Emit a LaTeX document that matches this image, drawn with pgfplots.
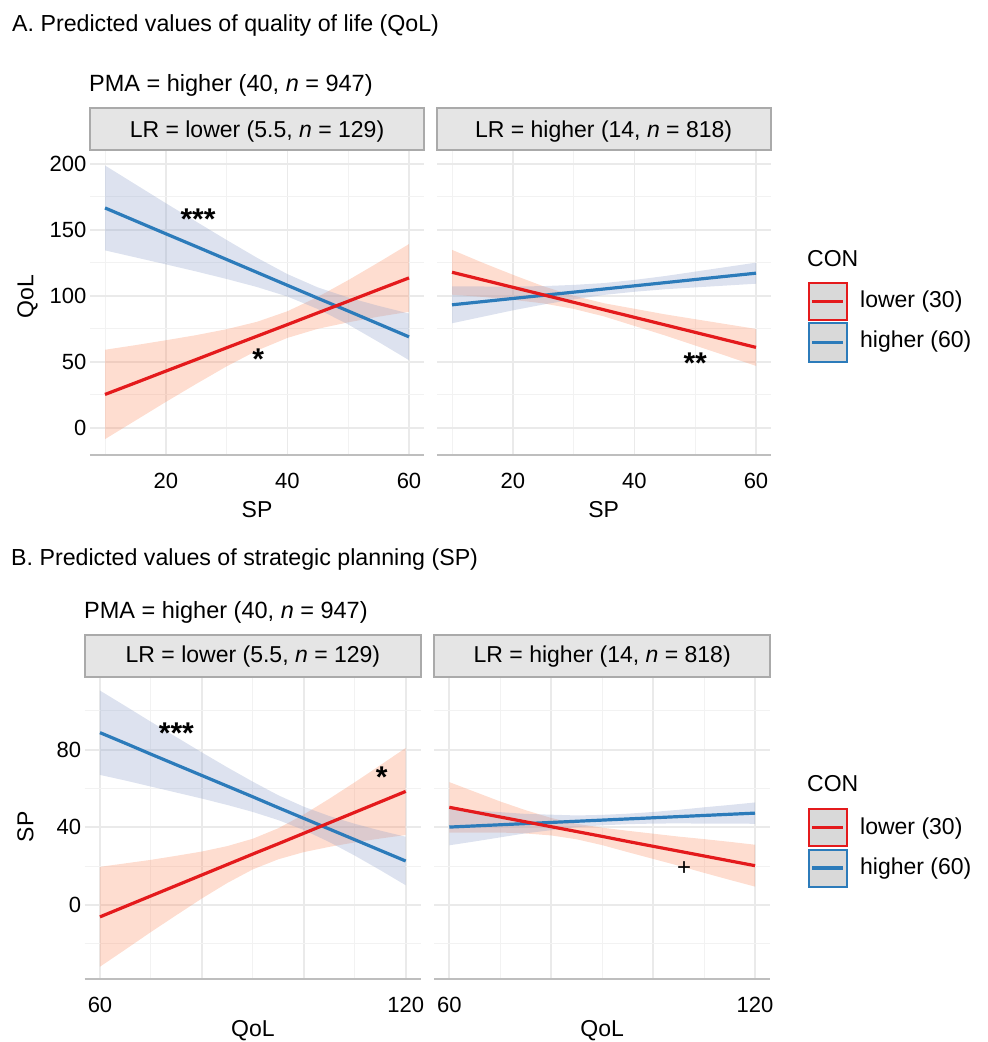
\documentclass[border=0pt]{standalone}
\usepackage{pgfplots}
\pgfplotsset{compat=1.18}
\usepackage{pgfplotstable}
\usepgfplotslibrary{fillbetween}
\usepackage{fontspec}
\setmainfont{Liberation Sans}

\definecolor{cred}{RGB}{228,26,28}
\definecolor{cblue}{RGB}{44,123,186}
\definecolor{rfill}{RGB}{252,141,98}
\definecolor{bfill}{RGB}{141,160,203}
\definecolor{gridmaj}{RGB}{234,234,234}
\definecolor{gridmin}{RGB}{242,242,242}
\definecolor{axgray}{RGB}{190,190,190}
\definecolor{stripfill}{RGB}{229,229,229}
\definecolor{stripdraw}{RGB}{170,170,170}
\definecolor{keyfill}{RGB}{217,217,217}

% ---------- Panel A, LR = lower ----------
\pgfplotstableread{
x fit lo hi
10 25.2 -8.7 59.1
15 34.0 5.4 62.6
20 42.9 19.5 66.3
25 51.7 33.2 70.2
30 60.6 46.5 74.7
35 69.4 58.5 80.3
40 78.2 68.1 88.3
45 87.1 75.0 99.2
50 95.9 79.9 111.9
55 104.8 84.2 125.4
60 113.6 87.9 139.3
}\tALred
\pgfplotstableread{
x fit lo hi
10 166.7 134.5 198.9
15 156.9 129.2 184.6
20 147.1 123.9 170.3
25 137.4 118.5 156.3
30 127.6 112.8 142.4
35 117.8 106.7 128.9
40 108.0 99.5 116.5
45 98.2 90.0 106.4
50 88.5 78.3 98.7
55 78.7 65.0 92.4
60 68.9 51.2 86.6
}\tALblue
% ---------- Panel A, LR = higher ----------
\pgfplotstableread{
x fit lo hi
10 117.9 100.9 134.9
15 112.2 99.2 125.2
20 106.5 97.0 116.0
25 100.8 94.3 107.3
30 95.1 90.1 100.1
35 89.4 84.4 94.4
40 83.7 77.2 90.2
45 78.0 70.0 86.0
50 72.3 62.3 82.3
55 66.6 54.6 78.6
60 60.9 46.9 74.9
}\tAHred
\pgfplotstableread{
x fit lo hi
10 93.2 79.2 107.2
15 95.6 84.1 107.1
20 98.0 89.0 107.0
25 100.4 93.4 107.4
30 102.8 97.3 108.3
35 105.2 100.7 109.7
40 107.6 103.1 112.1
45 110.0 105.0 115.0
50 112.4 106.4 118.4
55 114.8 107.8 121.8
60 117.2 109.2 125.2
}\tAHblue
% ---------- Panel B, LR = lower ----------
\pgfplotstableread{
x fit lo hi
60 -6.2 -31.9 19.6
65 -0.8 -23.0 21.4
70 4.6 -14.0 23.2
75 10.0 -5.3 25.3
80 15.4 3.3 27.5
85 20.8 11.3 30.3
90 26.2 18.3 34.1
95 31.5 23.5 39.5
100 36.9 27.2 46.6
105 42.3 29.9 54.7
110 47.7 32.2 63.2
115 53.1 34.2 72.0
120 58.5 36.0 80.9
}\tBLred
\pgfplotstableread{
x fit lo hi
60 88.8 67.0 110.5
65 83.3 64.1 102.5
70 77.7 61.0 94.4
75 72.2 57.9 86.5
80 66.7 54.8 78.6
85 61.2 51.5 70.9
90 55.7 47.9 63.5
95 50.1 43.7 56.5
100 44.6 38.6 50.6
105 39.1 32.4 45.8
110 33.6 25.4 41.8
115 28.1 17.9 38.3
120 22.6 10.1 35.1
}\tBLblue
% ---------- Panel B, LR = higher ----------
\pgfplotstableread{
x fit lo hi
60 50.3 37.3 63.3
65 47.8 37.3 58.3
70 45.3 37.3 53.3
75 42.8 36.8 48.8
80 40.3 35.8 44.8
85 37.8 33.8 41.8
90 35.3 30.8 39.8
95 32.7 27.2 38.2
100 30.2 23.7 36.7
105 27.7 20.2 35.2
110 25.2 16.5 33.9
115 22.7 12.9 32.5
120 20.2 9.4 31.0
}\tBHred
\pgfplotstableread{
x fit lo hi
60 40.1 30.7 49.5
65 40.7 32.7 48.7
70 41.3 34.8 47.8
75 41.9 36.9 46.9
80 42.5 38.5 46.5
85 43.1 40.1 46.1
90 43.7 41.0 46.4
95 44.3 41.6 47.0
100 44.9 41.9 47.9
105 45.5 42.0 49.0
110 46.1 41.9 50.3
115 46.7 41.9 51.5
120 47.3 41.8 52.8
}\tBHblue

\newcommand{\ft}{\fontsize{23}{27}\selectfont}
\newcommand{\fsub}{\fontsize{23.5}{27}\selectfont}
\newcommand{\ftitle}{\fontsize{23.2}{27}\selectfont}
\newcommand{\fstar}{\fontsize{30}{30}\selectfont\bfseries}

\pgfplotsset{
  facet/.style={
    anchor=south west, scale only axis, clip=false,
    axis line style={draw=none},
    tick style={draw=none},
    major tick length=0pt, minor tick length=0pt,
    grid=both,
    major grid style={draw=gridmaj, line width=1.7pt},
    minor grid style={draw=gridmin, line width=1.0pt},
    tick label style={font=\fontsize{22}{26}\selectfont},
    /pgf/number format/assume math mode=true,
    xticklabel style={anchor=base, yshift=-33.6pt},
  },
  facetA/.style={facet, width=334.4pt, height=304.5pt,
    xmin=7.5, xmax=62.5, ymin=-20.5, ymax=210.5,
    xtick={20,40,60}, minor xtick={10,30,50},
    ytick={0,50,100,150,200}, minor ytick={25,75,125,175}},
  facetB/.style={facet, width=336.3pt, height=301.9pt,
    xmin=57, xmax=123, ymin=-38.4, ymax=117.3,
    xtick={60,80,100,120}, xticklabels={60,,,120}, minor xtick={70,90,110},
    ytick={0,40,80}, minor ytick={-20,20,60,100}},
  rib/.style={draw=none, fill opacity=0.3},
  fitline/.style={line width=3.2pt, line cap=butt},
}

\begin{document}
\begin{tikzpicture}[x=1pt,y=1pt]

% ================= Panel A left =================
\begin{axis}[facetA, at={(89.8pt,587.3pt)}]
  \addplot[draw=none, name path=a1rl] table[x=x,y=lo]{\tALred};
  \addplot[draw=none, name path=a1rh] table[x=x,y=hi]{\tALred};
  \addplot[draw=none, name path=a1bl] table[x=x,y=lo]{\tALblue};
  \addplot[draw=none, name path=a1bh] table[x=x,y=hi]{\tALblue};
  \addplot[rib, fill=rfill] fill between[of=a1rl and a1rh];
  \addplot[rib, fill=bfill] fill between[of=a1bl and a1bh];
  \addplot[fitline, cblue] table[x=x,y=fit]{\tALblue};
  \addplot[fitline, cred] table[x=x,y=fit]{\tALred};
  \draw[axgray, line width=2pt] (rel axis cs:0,0) -- (rel axis cs:1,0);
  \node[font=\fstar, yshift=-6pt] at (axis cs:25.3,162.8) {***};
  \node[font=\fstar, yshift=-6pt] at (axis cs:35.2,56.4) {*};
\end{axis}

% ================= Panel A right =================
\begin{axis}[facetA, at={(436.8pt,587.3pt)}, yticklabels={}]
  \addplot[draw=none, name path=a2rl] table[x=x,y=lo]{\tAHred};
  \addplot[draw=none, name path=a2rh] table[x=x,y=hi]{\tAHred};
  \addplot[draw=none, name path=a2bl] table[x=x,y=lo]{\tAHblue};
  \addplot[draw=none, name path=a2bh] table[x=x,y=hi]{\tAHblue};
  \addplot[rib, fill=rfill] fill between[of=a2rl and a2rh];
  \addplot[rib, fill=bfill] fill between[of=a2bl and a2bh];
  \addplot[fitline, cblue] table[x=x,y=fit]{\tAHblue};
  \addplot[fitline, cred] table[x=x,y=fit]{\tAHred};
  \draw[axgray, line width=2pt] (rel axis cs:0,0) -- (rel axis cs:1,0);
  \node[font=\fstar, yshift=-6pt] at (axis cs:50.0,53.4) {**};
\end{axis}

% ================= Panel B left =================
\begin{axis}[facetB, at={(84.7pt,62.7pt)}]
  \addplot[draw=none, name path=b1rl] table[x=x,y=lo]{\tBLred};
  \addplot[draw=none, name path=b1rh] table[x=x,y=hi]{\tBLred};
  \addplot[draw=none, name path=b1bl] table[x=x,y=lo]{\tBLblue};
  \addplot[draw=none, name path=b1bh] table[x=x,y=hi]{\tBLblue};
  \addplot[rib, fill=rfill] fill between[of=b1rl and b1rh];
  \addplot[rib, fill=bfill] fill between[of=b1bl and b1bh];
  \addplot[fitline, cblue] table[x=x,y=fit]{\tBLblue};
  \addplot[fitline, cred] table[x=x,y=fit]{\tBLred};
  \draw[axgray, line width=2pt] (rel axis cs:0,0) -- (rel axis cs:1,0);
  \node[font=\fstar, yshift=-6pt] at (axis cs:75.0,91.4) {***};
  \node[font=\fstar, yshift=-6pt] at (axis cs:115.3,68.7) {*};
\end{axis}

% ================= Panel B right =================
\begin{axis}[facetB, at={(434pt,62.7pt)}, yticklabels={}]
  \addplot[draw=none, name path=b2rl] table[x=x,y=lo]{\tBHred};
  \addplot[draw=none, name path=b2rh] table[x=x,y=hi]{\tBHred};
  \addplot[draw=none, name path=b2bl] table[x=x,y=lo]{\tBHblue};
  \addplot[draw=none, name path=b2bh] table[x=x,y=hi]{\tBHblue};
  \addplot[rib, fill=rfill] fill between[of=b2rl and b2rh];
  \addplot[rib, fill=bfill] fill between[of=b2bl and b2bh];
  \addplot[fitline, cblue] table[x=x,y=fit]{\tBHblue};
  \addplot[fitline, cred] table[x=x,y=fit]{\tBHred};
  \draw[axgray, line width=2pt] (rel axis cs:0,0) -- (rel axis cs:1,0);
  \node[font=\fontsize{24}{24}\selectfont] at (axis cs:106.1,18.6) {+};
\end{axis}

% ================= Titles =================
\node[anchor=base west, font=\ftitle, inner sep=0pt] at (12,1010.5) {A. Predicted values of quality of life (QoL)};
\node[anchor=base west, font=\ftitle, inner sep=0pt] at (11,476) {B. Predicted values of strategic planning (SP)};
\node[anchor=base west, font=\fsub, inner sep=0pt] at (89,950.3) {PMA = higher (40, \textit{n} = 947)};
\node[anchor=base west, font=\fsub, inner sep=0pt] at (84,423.7) {PMA = higher (40, \textit{n} = 947)};

% ================= Strips =================
\draw[fill=stripfill, draw=stripdraw, line width=2pt] (90,891.8) rectangle (424.2,933.7);
\draw[fill=stripfill, draw=stripdraw, line width=2pt] (436.8,891.8) rectangle (770.5,933.7);
\node[anchor=base, font=\ft] at (257,904.5) {LR = lower (5.5, \textit{n} = 129)};
\node[anchor=base, font=\ft] at (603.6,904.5) {LR = higher (14, \textit{n} = 818)};
\draw[fill=stripfill, draw=stripdraw, line width=2pt] (84.7,364.6) rectangle (421,407);
\draw[fill=stripfill, draw=stripdraw, line width=2pt] (434,364.6) rectangle (770.3,407);
\node[anchor=base, font=\ft] at (252.9,379) {LR = lower (5.5, \textit{n} = 129)};
\node[anchor=base, font=\ft] at (602.2,379) {LR = higher (14, \textit{n} = 818)};

% ================= Axis titles =================
\node[anchor=base, font=\ft] at (257,524) {SP};
\node[anchor=base, font=\ft] at (603.6,524) {SP};
\node[anchor=base, font=\ft, rotate=90] at (33.3,745.3) {QoL};
\node[anchor=base, font=\ft] at (252.9,5.5) {QoL};
\node[anchor=base, font=\ft] at (602.2,5.5) {QoL};
\node[anchor=base, font=\ft, rotate=90] at (33.3,215.3) {SP};

% ================= Legends =================
\node[anchor=base west, font=\ft, inner sep=0pt] at (807,775.5) {CON};
\draw[fill=keyfill, draw=cred, line width=2pt] (808.7,759.3) rectangle (846.7,722);
\draw[cred, line width=3.2pt] (812,740.7) -- (843,740.7);
\draw[fill=keyfill, draw=cblue, line width=2pt] (808.7,718.7) rectangle (846.7,680.3);
\draw[cblue, line width=3.2pt] (812,699.3) -- (843,699.3);
\node[anchor=base west, font=\ft, inner sep=0pt] at (860,734) {lower (30)};
\node[anchor=base west, font=\ft, inner sep=0pt] at (860,694) {higher (60)};

\node[anchor=base west, font=\ft, inner sep=0pt] at (807,250.5) {CON};
\draw[fill=keyfill, draw=cred, line width=2pt] (808.7,233) rectangle (846.7,196);
\draw[cred, line width=3.2pt] (812,214.5) -- (843,214.5);
\draw[fill=keyfill, draw=cblue, line width=2pt] (808.7,192) rectangle (846.7,155.3);
\draw[cblue, line width=3.2pt] (812,174) -- (843,174);
\node[anchor=base west, font=\ft, inner sep=0pt] at (860,207.5) {lower (30)};
\node[anchor=base west, font=\ft, inner sep=0pt] at (860,167.5) {higher (60)};

\pgfresetboundingbox
\path[use as bounding box] (0,0) rectangle (988,1042);
\end{tikzpicture}
\end{document}
